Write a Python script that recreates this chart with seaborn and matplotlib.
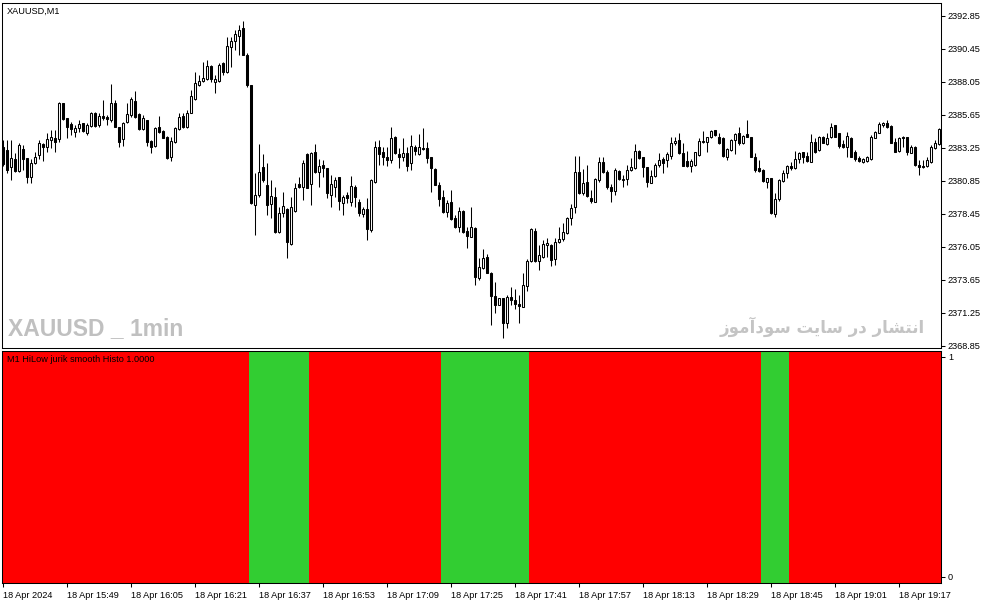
import matplotlib
matplotlib.use("Agg")
import matplotlib.pyplot as plt
import numpy as np
import pandas as pd
import seaborn as sns

# ---------------- data ----------------
symbol_label = "XAUUSD,M1"
indicator_label = "M1 HiLow jurik smooth Histo 1.0000"
watermark_left = "XAUUSD _ 1min"
watermark_right = "انتشار در سایت سودآموز"

time_labels = ["18 Apr 2024", "18 Apr 15:49", "18 Apr 16:05", "18 Apr 16:21",
               "18 Apr 16:37", "18 Apr 16:53", "18 Apr 17:09", "18 Apr 17:25",
               "18 Apr 17:41", "18 Apr 17:57", "18 Apr 18:13", "18 Apr 18:29",
               "18 Apr 18:45", "18 Apr 19:01", "18 Apr 19:17"]
bars_per_time_label = 16

price_ticks = [2368.85, 2371.25, 2373.65, 2376.05, 2378.45, 2380.85,
               2383.25, 2385.65, 2388.05, 2390.45, 2392.85]
hist_ticks = [0, 1]

opens = [
    2383.32, 2383.10, 2381.86, 2382.45, 2381.58, 2383.18, 2382.52, 2381.14, 2382.15, 2382.74,
    2383.54, 2383.32, 2383.83, 2383.97, 2383.90, 2386.52, 2385.43, 2384.99, 2384.40, 2384.70,
    2385.06, 2384.33, 2384.84, 2385.79, 2384.92, 2385.57, 2385.50, 2385.28, 2386.52, 2384.77,
    2383.90, 2385.13, 2385.64, 2386.66, 2385.72, 2384.63, 2385.28, 2383.76, 2383.39, 2384.77,
    2384.48, 2384.04, 2382.59, 2383.68, 2384.63, 2385.57, 2384.77, 2385.79, 2386.81, 2387.83,
    2388.12, 2388.27, 2389.21, 2388.05, 2388.12, 2389.43, 2388.78, 2390.59, 2391.03, 2391.39,
    2391.97, 2390.01, 2387.83, 2379.10, 2379.83, 2381.86, 2380.56, 2379.17, 2379.68, 2377.14,
    2378.52, 2378.81, 2376.26, 2378.67, 2380.63, 2380.41, 2382.81, 2380.63, 2382.95, 2381.50,
    2382.01, 2381.79, 2379.83, 2380.41, 2381.14, 2379.24, 2379.83, 2379.31, 2380.41, 2379.31,
    2378.45, 2378.81, 2377.28, 2380.77, 2383.32, 2382.95, 2382.59, 2382.37, 2384.04, 2382.81,
    2382.59, 2382.88, 2382.15, 2383.32, 2382.81, 2383.25, 2383.25, 2382.59, 2381.72, 2380.56,
    2379.68, 2378.59, 2379.31, 2378.16, 2377.50, 2378.67, 2377.21, 2376.77, 2377.43, 2373.79,
    2374.52, 2375.32, 2374.15, 2372.48, 2371.83, 2372.34, 2370.52, 2372.41, 2372.19, 2371.90,
    2371.69, 2373.21, 2375.03, 2377.21, 2375.03, 2375.32, 2376.19, 2376.19, 2375.18, 2376.41,
    2376.63, 2377.06, 2378.16, 2378.95, 2381.50, 2379.97, 2380.77, 2379.61, 2379.31, 2380.92,
    2382.22, 2381.50, 2380.41, 2380.12, 2381.58, 2380.92, 2381.00, 2381.65, 2381.79, 2383.03,
    2382.59, 2381.86, 2380.70, 2381.21, 2382.01, 2382.45, 2382.37, 2382.66, 2383.61, 2383.83,
    2382.88, 2382.30, 2381.93, 2382.01, 2382.74, 2383.68, 2383.68, 2384.04, 2384.55, 2384.04,
    2383.97, 2382.59, 2383.10, 2383.83, 2384.33, 2383.61, 2384.26, 2384.04, 2382.59, 2381.79,
    2381.65, 2380.77, 2381.07, 2378.45, 2379.54, 2380.85, 2381.43, 2381.93, 2381.79, 2382.45,
    2382.95, 2382.66, 2382.22, 2383.68, 2383.10, 2384.04, 2383.54, 2384.04, 2384.92, 2384.33,
    2383.54, 2383.32, 2383.97, 2382.95, 2382.52, 2382.22, 2382.30, 2382.45, 2383.97, 2384.33,
    2384.92, 2385.06, 2384.84, 2383.68, 2383.03, 2384.04, 2384.04, 2382.88, 2383.32, 2382.01,
    2381.93, 2381.93, 2382.22, 2383.25, 2383.54]

highs = [
    2383.83, 2383.83, 2383.83, 2382.88, 2383.61, 2383.47, 2382.52, 2382.45, 2382.95, 2383.83,
    2383.61, 2384.33, 2384.55, 2384.55, 2386.59, 2386.52, 2385.43, 2385.13, 2384.92, 2385.28,
    2385.06, 2385.06, 2385.86, 2385.86, 2385.79, 2386.74, 2385.64, 2387.90, 2386.74, 2384.77,
    2385.13, 2386.52, 2386.96, 2387.39, 2385.79, 2385.64, 2385.28, 2383.83, 2384.77, 2385.57,
    2384.55, 2384.11, 2384.04, 2384.77, 2385.79, 2385.79, 2386.01, 2387.46, 2388.78, 2388.56,
    2389.50, 2389.65, 2389.28, 2388.56, 2389.43, 2389.50, 2391.32, 2391.32, 2391.83, 2392.19,
    2392.48, 2390.15, 2387.83, 2381.43, 2383.54, 2382.81, 2382.15, 2380.92, 2380.41, 2378.95,
    2380.04, 2378.88, 2379.68, 2380.70, 2381.14, 2382.37, 2382.88, 2382.95, 2383.54, 2382.45,
    2382.37, 2381.79, 2381.29, 2381.14, 2381.14, 2379.83, 2380.04, 2381.21, 2380.56, 2379.54,
    2378.95, 2379.61, 2381.00, 2383.76, 2383.83, 2383.32, 2383.32, 2384.77, 2384.11, 2383.25,
    2383.97, 2383.32, 2384.19, 2383.47, 2384.26, 2384.70, 2383.68, 2382.59, 2381.79, 2380.77,
    2380.19, 2379.46, 2380.19, 2378.38, 2378.95, 2378.74, 2377.50, 2378.95, 2377.50, 2375.25,
    2375.90, 2375.54, 2374.23, 2373.50, 2372.34, 2372.34, 2372.56, 2373.14, 2372.99, 2372.56,
    2374.15, 2375.18, 2377.43, 2377.43, 2376.19, 2376.56, 2376.70, 2376.26, 2376.70, 2377.50,
    2377.79, 2378.23, 2379.17, 2382.66, 2382.66, 2381.72, 2382.01, 2380.19, 2381.07, 2382.59,
    2382.59, 2381.65, 2380.63, 2381.79, 2381.65, 2381.29, 2382.01, 2382.52, 2383.54, 2383.10,
    2382.59, 2381.86, 2381.65, 2382.15, 2382.88, 2382.59, 2382.95, 2384.04, 2384.04, 2384.33,
    2383.61, 2383.03, 2382.45, 2382.95, 2383.97, 2384.48, 2384.04, 2384.55, 2384.55, 2384.33,
    2384.04, 2383.25, 2383.90, 2384.33, 2384.77, 2384.19, 2385.28, 2384.04, 2382.88, 2382.37,
    2381.72, 2381.07, 2381.07, 2379.97, 2381.00, 2381.65, 2382.01, 2382.22, 2383.03, 2382.95,
    2382.95, 2382.95, 2384.26, 2383.97, 2384.11, 2384.11, 2384.33, 2385.06, 2384.92, 2384.33,
    2383.83, 2384.40, 2384.04, 2383.10, 2382.66, 2382.52, 2382.66, 2384.19, 2384.48, 2385.13,
    2385.13, 2385.28, 2384.92, 2383.97, 2384.04, 2384.11, 2384.04, 2383.47, 2383.39, 2382.37,
    2382.37, 2382.59, 2383.47, 2383.83, 2384.70]

lows = [
    2381.93, 2381.43, 2380.92, 2381.50, 2381.50, 2381.65, 2380.70, 2380.70, 2382.08, 2382.45,
    2382.30, 2382.95, 2383.25, 2382.95, 2383.68, 2385.28, 2383.97, 2384.19, 2384.04, 2384.40,
    2384.40, 2384.19, 2384.77, 2384.77, 2384.77, 2385.28, 2384.92, 2385.13, 2384.77, 2383.32,
    2383.39, 2385.06, 2385.50, 2385.43, 2384.55, 2384.55, 2383.39, 2382.88, 2383.32, 2384.33,
    2383.97, 2382.45, 2382.30, 2383.61, 2384.55, 2384.70, 2384.70, 2385.79, 2386.74, 2387.76,
    2388.05, 2388.19, 2388.05, 2387.25, 2388.05, 2388.56, 2388.70, 2389.14, 2390.37, 2390.01,
    2390.01, 2387.68, 2379.17, 2376.92, 2379.68, 2380.77, 2378.38, 2378.16, 2377.06, 2377.06,
    2378.23, 2375.25, 2376.19, 2378.59, 2380.34, 2379.46, 2380.34, 2379.10, 2381.43, 2380.41,
    2381.14, 2379.61, 2378.95, 2379.68, 2378.74, 2378.38, 2379.24, 2379.02, 2378.95, 2378.30,
    2378.23, 2376.56, 2377.14, 2380.70, 2382.01, 2382.01, 2381.93, 2382.15, 2382.81, 2381.79,
    2382.30, 2381.58, 2381.65, 2382.74, 2382.74, 2383.10, 2382.15, 2380.04, 2380.56, 2379.02,
    2378.52, 2378.23, 2378.01, 2377.43, 2377.14, 2377.06, 2375.97, 2376.77, 2373.28, 2373.65,
    2374.45, 2374.15, 2370.37, 2371.25, 2371.83, 2369.43, 2370.15, 2371.83, 2371.54, 2370.52,
    2371.69, 2372.85, 2374.96, 2374.96, 2374.37, 2375.25, 2375.32, 2374.66, 2374.74, 2376.34,
    2376.48, 2376.99, 2377.65, 2378.52, 2379.90, 2379.83, 2379.68, 2379.24, 2379.31, 2380.77,
    2381.43, 2380.27, 2379.31, 2379.83, 2380.92, 2380.41, 2380.56, 2381.58, 2381.72, 2382.45,
    2381.14, 2380.41, 2380.70, 2381.14, 2381.86, 2381.43, 2381.86, 2382.45, 2383.47, 2382.81,
    2381.93, 2381.86, 2381.50, 2381.93, 2382.66, 2383.61, 2382.95, 2383.97, 2384.11, 2383.54,
    2382.59, 2382.37, 2383.03, 2382.81, 2383.47, 2383.54, 2384.04, 2382.59, 2381.50, 2381.50,
    2380.77, 2380.34, 2378.45, 2378.23, 2379.39, 2380.77, 2381.07, 2381.65, 2381.72, 2382.15,
    2382.15, 2382.22, 2382.22, 2382.88, 2383.03, 2383.61, 2383.47, 2383.97, 2384.04, 2383.25,
    2383.25, 2382.59, 2382.59, 2382.30, 2382.22, 2382.15, 2382.22, 2382.37, 2383.97, 2384.33,
    2384.77, 2384.70, 2383.61, 2382.95, 2382.95, 2383.32, 2382.74, 2382.88, 2381.93, 2381.29,
    2381.79, 2381.86, 2382.15, 2383.18, 2383.47]

closes = [
    2382.08, 2381.65, 2382.52, 2381.58, 2383.47, 2382.45, 2381.14, 2382.15, 2382.59, 2383.61,
    2383.32, 2383.90, 2384.04, 2383.68, 2386.52, 2385.35, 2384.77, 2384.63, 2384.70, 2384.99,
    2384.48, 2384.92, 2385.79, 2384.84, 2385.57, 2385.43, 2385.35, 2386.52, 2384.77, 2383.68,
    2385.06, 2385.72, 2386.81, 2385.50, 2384.63, 2385.43, 2383.68, 2383.32, 2384.70, 2384.40,
    2383.97, 2382.52, 2383.76, 2384.70, 2385.50, 2384.77, 2385.79, 2387.03, 2387.97, 2388.12,
    2388.34, 2389.21, 2388.27, 2388.27, 2389.28, 2388.78, 2390.66, 2391.03, 2391.54, 2391.83,
    2390.01, 2387.83, 2379.24, 2379.83, 2381.50, 2380.92, 2379.10, 2379.75, 2377.14, 2378.52,
    2379.02, 2376.41, 2378.95, 2380.34, 2380.41, 2382.15, 2380.34, 2382.88, 2381.50, 2381.93,
    2381.79, 2379.97, 2380.63, 2380.92, 2379.39, 2379.68, 2379.61, 2380.48, 2379.68, 2378.52,
    2378.81, 2377.36, 2380.92, 2383.32, 2382.81, 2382.59, 2382.37, 2383.97, 2382.88, 2382.59,
    2382.88, 2381.93, 2383.39, 2383.03, 2383.32, 2383.18, 2382.52, 2381.79, 2380.56, 2379.54,
    2378.59, 2379.24, 2378.09, 2377.50, 2378.67, 2377.14, 2376.85, 2377.50, 2373.86, 2374.59,
    2375.25, 2374.15, 2372.48, 2371.83, 2372.34, 2370.52, 2372.41, 2372.19, 2371.90, 2371.76,
    2373.28, 2375.03, 2377.36, 2375.03, 2375.47, 2376.26, 2376.34, 2375.10, 2376.41, 2376.63,
    2377.14, 2378.16, 2378.88, 2381.50, 2379.97, 2380.70, 2379.75, 2379.39, 2381.00, 2382.22,
    2381.50, 2380.41, 2380.12, 2381.65, 2381.00, 2381.00, 2381.65, 2381.86, 2383.03, 2382.52,
    2381.86, 2380.77, 2381.21, 2382.01, 2382.37, 2382.15, 2382.81, 2383.61, 2383.76, 2382.88,
    2381.93, 2381.93, 2382.30, 2382.95, 2383.76, 2383.76, 2384.04, 2384.48, 2384.19, 2383.61,
    2382.66, 2383.18, 2383.83, 2384.26, 2383.61, 2384.11, 2384.04, 2382.59, 2381.65, 2381.58,
    2380.85, 2381.07, 2378.52, 2379.54, 2380.92, 2381.43, 2381.93, 2381.79, 2382.45, 2382.88,
    2382.59, 2382.30, 2383.68, 2382.95, 2384.04, 2383.61, 2383.97, 2384.77, 2384.04, 2383.39,
    2383.32, 2384.11, 2382.59, 2382.45, 2382.30, 2382.45, 2382.59, 2384.04, 2384.40, 2384.99,
    2385.06, 2384.77, 2383.61, 2382.95, 2383.97, 2383.97, 2382.95, 2383.32, 2382.01, 2381.86,
    2381.86, 2382.37, 2383.32, 2383.61, 2384.63]

# histogram state, as runs of consecutive bars (state, number of bars)
hist_runs = [("down", 62), ("up", 15), ("down", 33), ("up", 22),
             ("down", 58), ("up", 7), ("down", 38)]
hist_value = 1.0

# ---------------- styling ----------------
sns.set_theme(style="white")
plt.rcParams["font.family"] = ["Liberation Sans", "DejaVu Sans"]
plt.rcParams["axes.linewidth"] = 0.75
FS = 6.6

W, H = 987, 605
fig = plt.figure(figsize=(W / 100, H / 100), dpi=100)
fig.patch.set_facecolor("white")

def px_box(x0, y0, x1, y1):
    return [x0 / W, 1 - y1 / H, (x1 - x0) / W, (y1 - y0) / H]

ax1 = fig.add_axes(px_box(2, 3, 941, 348))
ax2 = fig.add_axes(px_box(2, 351, 941, 583))

n = len(opens)
df = pd.DataFrame({"open": opens, "high": highs, "low": lows, "close": closes})
df["idx"] = np.arange(n)
df["up"] = df["close"] >= df["open"]

# candles
ax1.vlines(df["idx"], df["low"], df["high"], color="black", linewidth=0.75, zorder=1)
body_bottom = np.minimum(df["open"], df["close"])
body_h = np.abs(df["close"] - df["open"])
face = np.where(df["up"], "white", "black")
ax1.bar(df["idx"], body_h, bottom=body_bottom, width=0.55, color=face,
        edgecolor="black", linewidth=0.75, zorder=2)

x_lo, x_hi = -0.33, 234.43
ax1.set_xlim(x_lo, x_hi)
ax1.set_ylim(2368.70, 2393.79)
ax1.set_xticks([])
ax1.yaxis.tick_right()
ax1.set_yticks(price_ticks)
ax1.set_yticklabels([f"{v:.2f}" for v in price_ticks])
ax1.tick_params(axis="y", direction="out", length=3, width=0.75, pad=2,
                labelsize=FS, colors="black", right=True)
for s in ax1.spines.values():
    s.set_color("black")

# histogram
states = []
for state, count in hist_runs:
    states += [state] * count
hdf = pd.DataFrame({"idx": np.arange(len(states)), "state": states,
                    "value": hist_value})
pad = 6 / 220
ax2.set_ylim(-pad, 1 + pad)
colors = {"up": "#32CD32", "down": "#FF0000"}
ax2.bar(hdf["idx"], hdf["value"] + 2 * pad, bottom=-pad, width=1.0,
        color=[colors[s] for s in hdf["state"]], linewidth=0, zorder=1)
ax2.set_xlim(x_lo, x_hi)
ax2.yaxis.tick_right()
ax2.set_yticks(hist_ticks)
ax2.set_yticklabels([str(v) for v in hist_ticks])
ax2.tick_params(axis="y", direction="out", length=3, width=0.75, pad=2,
                labelsize=FS, colors="black", right=True)
tick_pos = np.arange(len(time_labels)) * bars_per_time_label
ax2.set_xticks(tick_pos)
ax2.set_xticklabels(time_labels, ha="left")
ax2.tick_params(axis="x", direction="out", length=3, width=0.75, pad=3,
                labelsize=FS, colors="black", bottom=True)
for s in ax2.spines.values():
    s.set_color("black")
    s.set_zorder(5)

# texts
fig.text(7 / W, 1 - 11 / H, symbol_label, fontsize=FS, va="center", ha="left",
         color="black")
fig.text(7 / W, 1 - 359 / H, indicator_label, fontsize=FS, va="center", ha="left",
         color="black")
fig.text(8 / W, 1 - 329 / H, watermark_left, fontsize=16.5, fontweight="bold",
         family=["Liberation Sans", "DejaVu Sans"],
         va="center", ha="left", color="#c0c0c0")

# Arabic-script display shaping (presentation forms, visual order)
forms = {
    "ا": ("\uFE8D", "\uFE8E", None, None),
    "آ": ("\uFE81", "\uFE82", None, None),
    "ن": ("\uFEE5", "\uFEE6", "\uFEE7", "\uFEE8"),
    "ت": ("\uFE95", "\uFE96", "\uFE97", "\uFE98"),
    "ش": ("\uFEB5", "\uFEB6", "\uFEB7", "\uFEB8"),
    "ر": ("\uFEAD", "\uFEAE", None, None),
    "د": ("\uFEA9", "\uFEAA", None, None),
    "س": ("\uFEB1", "\uFEB2", "\uFEB3", "\uFEB4"),
    "ی": ("\uFBFC", "\uFBFD", "\uFBFE", "\uFBFF"),
    "و": ("\uFEED", "\uFEEE", None, None),
    "م": ("\uFEE1", "\uFEE2", "\uFEE3", "\uFEE4"),
    "ز": ("\uFEAF", "\uFEB0", None, None),
}

def shape(text):
    out = []
    for i, ch in enumerate(text):
        if ch not in forms:
            out.append(ch)
            continue
        prev = text[i - 1] if i > 0 else ""
        nxt = text[i + 1] if i + 1 < len(text) else ""
        jp = prev in forms and forms[prev][2] is not None
        jn = forms[ch][2] is not None and nxt in forms
        iso, fin, ini, med = forms[ch]
        if jp and jn:
            out.append(med)
        elif jp:
            out.append(fin)
        elif jn:
            out.append(ini)
        else:
            out.append(iso)
    return "".join(out)[::-1]

fig.text(925 / W, 1 - 327 / H, shape(watermark_right), fontsize=12,
         fontweight="bold", family=["DejaVu Sans"], va="center", ha="right",
         color="#c4c4c4")

fig.savefig("out.png", dpi=100, facecolor="white")
